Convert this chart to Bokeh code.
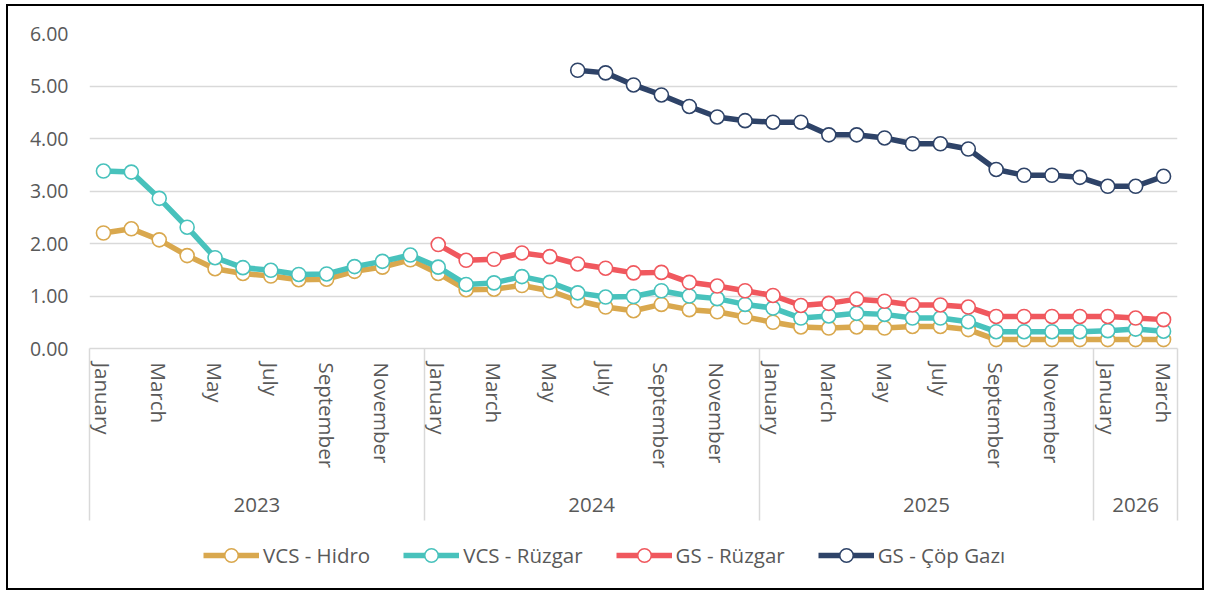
import math
from bokeh.plotting import figure
from bokeh.layouts import column
from bokeh.models import (Range1d, FixedTicker, LinearAxis, Legend, LegendItem,
                          NumeralTickFormatter)
from bokeh.embed import file_html
from bokeh.resources import INLINE

NaN = float("nan")

# ---- data -------------------------------------------------------------
month_names = ["January", "February", "March", "April", "May", "June", "July",
               "August", "September", "October", "November", "December"]
years = ["2023"] * 12 + ["2024"] * 12 + ["2025"] * 12 + ["2026"] * 3
months = (month_names * 4)[:39]

vcs_hidro = [2.20, 2.28, 2.07, 1.77, 1.52, 1.43, 1.38, 1.31, 1.32, 1.47, 1.55, 1.69,
             1.43, 1.12, 1.13, 1.20, 1.10, 0.91, 0.79, 0.72, 0.84, 0.74, 0.70, 0.60,
             0.50, 0.41, 0.39, 0.41, 0.39, 0.42, 0.42, 0.36, 0.17, 0.17, 0.17, 0.17,
             0.17, 0.17, 0.17]
vcs_ruzgar = [3.38, 3.36, 2.86, 2.31, 1.73, 1.54, 1.49, 1.41, 1.42, 1.56, 1.66, 1.78,
              1.55, 1.22, 1.25, 1.37, 1.26, 1.06, 0.98, 0.99, 1.10, 1.00, 0.95, 0.84,
              0.77, 0.58, 0.62, 0.67, 0.65, 0.58, 0.58, 0.51, 0.32, 0.32, 0.32, 0.32,
              0.34, 0.37, 0.33]
gs_ruzgar = [NaN] * 12 + [
             1.98, 1.68, 1.70, 1.82, 1.75, 1.61, 1.53, 1.44, 1.45, 1.26, 1.19, 1.10,
             1.01, 0.82, 0.86, 0.94, 0.90, 0.83, 0.83, 0.79, 0.61, 0.61, 0.61, 0.61,
             0.61, 0.58, 0.55]
gs_cop_gazi = [NaN] * 17 + [
               5.30, 5.25, 5.02, 4.83, 4.61, 4.41, 4.34,
               4.31, 4.31, 4.07, 4.07, 4.01, 3.90, 3.90, 3.80, 3.41, 3.30, 3.30, 3.26,
               3.09, 3.09, 3.28]

series_names = ["VCS - Hidro", "VCS - Rüzgar", "GS - Rüzgar", "GS - Çöp Gazı"]
series_values = [vcs_hidro, vcs_ruzgar, gs_ruzgar, gs_cop_gazi]
series_colors = ["#D9A84E", "#48C2BC", "#F0585E", "#2E4368"]
y_ticks = [0, 1, 2, 3, 4, 5, 6]

# ---- figure ------------------------------------------------------------
FONT = "Open Sans"
TXT = "#595959"
GRID = "#D9D9D9"
SEP_LEN = 172
LBL = "20.5px"
W = 1194

x = list(range(len(months)))
x_rng = (-0.5, len(months) - 0.5)

p = figure(width=W, height=519, output_backend="svg", toolbar_location=None,
           x_range=Range1d(*x_rng), y_range=Range1d(0, 6),
           x_axis_location=None,
           min_border_left=81, min_border_right=25, min_border_top=27,
           min_border_bottom=177)
p.outline_line_color = None
p.background_fill_color = "white"

# y axis
yax = p.yaxis[0]
yax.ticker = FixedTicker(ticks=y_ticks)
yax.formatter = NumeralTickFormatter(format="0.00")
yax.axis_line_color = None
yax.major_tick_line_color = None
yax.minor_tick_line_color = None
yax.major_tick_out = 0
yax.major_label_standoff = 21
yax.major_label_text_font = FONT
yax.major_label_text_font_size = "19.5px"
yax.major_label_text_color = TXT

for g in p.xgrid:
    g.visible = False
p.ygrid[0].ticker = FixedTicker(ticks=y_ticks)
p.ygrid[0].grid_line_color = GRID
p.ygrid[0].grid_line_width = 1.5

# month axis with year separators (minor ticks)
month_ticks = [i for i in x if i % 2 == 0]
bounds = [-0.5]
for i in range(1, len(years)):
    if years[i] != years[i - 1]:
        bounds.append(i - 0.5)
bounds.append(len(years) - 0.5)

month_axis = LinearAxis(
    ticker=FixedTicker(ticks=month_ticks, minor_ticks=bounds),
    major_label_overrides={i: months[i] for i in month_ticks},
    major_label_orientation="vertical",
    major_tick_line_color=None, major_tick_in=0, major_tick_out=0,
    minor_tick_in=0, minor_tick_out=SEP_LEN, minor_tick_line_color=GRID,
    minor_tick_line_width=1.5,
    axis_line_color=GRID, axis_line_width=1.5,
    major_label_standoff=14 - SEP_LEN,
    major_label_text_font=FONT, major_label_text_font_size=LBL,
    major_label_text_color=TXT)
p.add_layout(month_axis, "below")

# year labels axis
year_list = []
for yv in years:
    if yv not in year_list:
        year_list.append(yv)
year_centers = {}
for yv in year_list:
    idx = [i for i, v in enumerate(years) if v == yv]
    year_centers[(idx[0] + idx[-1]) / 2] = yv

year_axis = LinearAxis(
    ticker=FixedTicker(ticks=list(year_centers.keys())),
    major_label_overrides=year_centers,
    axis_line_color=None, major_tick_line_color=None, minor_tick_line_color=None,
    major_tick_in=0, major_tick_out=0, major_label_standoff=26,
    major_label_text_font=FONT, major_label_text_font_size=LBL,
    major_label_text_color=TXT)
p.add_layout(year_axis, "below")

# series
for name, vals, col in zip(series_names, series_values, series_colors):
    p.line(x, vals, line_color=col, line_width=5.5)
    p.scatter(x, vals, size=14, marker="circle", fill_color="white",
              line_color=col, line_width=1.6)

# legend strip: same series, y window kept out of view so only the keys show
lf = figure(width=W, height=63, output_backend="svg", toolbar_location=None,
            x_range=Range1d(*x_rng), y_range=Range1d(-2, -1),
            x_axis_location=None, y_axis_location=None,
            min_border_left=0, min_border_right=0, min_border_top=0,
            min_border_bottom=0)
lf.outline_line_color = None
for g in lf.grid:
    g.visible = False
items = []
for name, vals, col in zip(series_names, series_values, series_colors):
    lr = lf.line(x, vals, line_color=col, line_width=5.5)
    sr = lf.scatter(x, vals, size=14, marker="circle", fill_color="white",
                    line_color=col, line_width=1.6)
    items.append(LegendItem(label=name, renderers=[lr, sr]))
legend = Legend(items=items, orientation="horizontal", location=(114, 16),
                border_line_color=None, background_fill_alpha=0,
                label_text_font=FONT, label_text_font_size=LBL,
                label_text_color=TXT, glyph_width=56, glyph_height=34,
                label_height=34, spacing=33, label_standoff=4, margin=0,
                padding=0)
lf.add_layout(legend, "center")

layout = column(p, lf, spacing=0)
layout.styles = {"border": "2px solid #000000", "margin-left": "6px",
                 "margin-top": "4px"}

open("out.html", "w").write(file_html(layout, INLINE))
